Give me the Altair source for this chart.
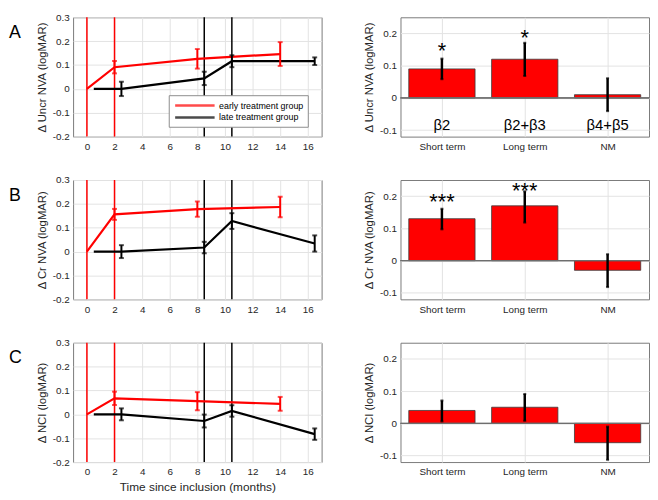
import altair as alt
import pandas as pd

FONT = "Liberation Sans"
GROUPS = ["early treatment group", "late treatment group"]
COLORS = ["#ff0000", "#000000"]

# time axis (months since inclusion)
months_early = [0, 2, 8, 14]
months_late = [0.5, 2.5, 8.5, 10.5, 16.5]
# treatment start lines
vline_month = [0, 2, 8.5, 10.5]
vline_group = [GROUPS[0], GROUPS[0], GROUPS[1], GROUPS[1]]

# Panel A  (Uncr NVA)
uncr_early_mean = [0, 0.091, 0.126, 0.146]
uncr_early_err = [0, 0.026, 0.041, 0.050]
uncr_late_mean = [0, 0, 0.044, 0.116, 0.116]
uncr_late_err = [0, 0.030, 0.028, 0.025, 0.016]
# Panel B  (Cr NVA)
cr_early_mean = [0, 0.156, 0.178, 0.187]
cr_early_err = [0, 0.023, 0.032, 0.043]
cr_late_mean = [0, 0, 0.017, 0.128, 0.034]
cr_late_err = [0, 0.027, 0.024, 0.033, 0.034]
# Panel C  (NCI)
nci_early_mean = [0, 0.067, 0.055, 0.044]
nci_early_err = [0, 0.028, 0.038, 0.029]
nci_late_mean = [0, 0, -0.028, 0.014, -0.083]
nci_late_err = [0, 0.025, 0.027, 0.024, 0.024]

# bar charts
bar_categories = ["Short term", "Long term", "NM"]
uncr_bar = [0.09, 0.12, 0.01]
uncr_bar_lo = [0.058, 0.068, -0.041]
uncr_bar_hi = [0.122, 0.171, 0.061]
uncr_stars = ["*", "*", ""]
uncr_star_y = [0.125, 0.164, 0.0]
uncr_beta = ["β2", "β2+β3", "β4+β5"]

cr_bar = [0.13, 0.17, -0.03]
cr_bar_lo = [0.097, 0.118, -0.082]
cr_bar_hi = [0.161, 0.215, 0.02]
cr_stars = ["***", "***", ""]
cr_star_y = [0.160, 0.194, 0.0]

nci_bar = [0.04, 0.05, -0.06]
nci_bar_lo = [0.006, 0.008, -0.113]
nci_bar_hi = [0.071, 0.091, -0.01]

LEFT_W, LEFT_H = 252, 121
RIGHT_W, RIGHT_H = 252, 121

neg_fmt = "datum.value == 0 ? '0' : (datum.value < 0 ? '-' + format(-datum.value, '.1f') : format(datum.value, '.1f'))"


def axis(**kw):
    base = dict(grid=True, gridColor="#e3e3e3", gridWidth=1, domain=False, ticks=False,
                labelFont=FONT, labelFontSize=10, labelColor="#262626", labelPadding=4,
                titleFont=FONT, titleFontSize=11.5, titleFontWeight="normal", titleColor="#262626",
                labelFlush=False, labelOverlap=False)
    base.update(kw)
    return alt.Axis(**base)


def left_panel(em, ee, lm, le, ytitle, letter, legend, xtitle):
    rows = []
    for m, v, e in zip(months_early, em, ee):
        rows.append(dict(month=m, value=v, lo=v - e, hi=v + e, err=e, group=GROUPS[0]))
    for m, v, e in zip(months_late, lm, le):
        rows.append(dict(month=m, value=v, lo=v - e, hi=v + e, err=e, group=GROUPS[1]))
    df = pd.DataFrame(rows)
    vdf = pd.DataFrame(dict(month=vline_month, group=vline_group))

    xs = alt.Scale(domain=[-1, 17], nice=False, zero=False)
    ys = alt.Scale(domain=[-0.2, 0.3], nice=False, zero=False)
    xax = axis(values=list(range(0, 17, 2)), title=xtitle if xtitle else None,
               titlePadding=5, labelPadding=5, titleFontSize=12)
    yax = axis(values=[-0.2, -0.1, 0, 0.1, 0.2, 0.3], labelExpr=neg_fmt, title=ytitle, titlePadding=5)
    if legend:
        leg = alt.Legend(orient="none", legendX=97, legendY=79, title=None, symbolType="M-4,0H4",
                         symbolSize=100, symbolStrokeWidth=2.5, symbolOffset=16, labelFont=FONT,
                         labelFontSize=9, labelColor="#000000", strokeColor="#8c8c8c",
                         fillColor="white", padding=4, rowPadding=0, labelOffset=18, cornerRadius=0)
    else:
        leg = None
    color = alt.Color("group:N", scale=alt.Scale(domain=GROUPS, range=COLORS), legend=leg)

    X = alt.X("month:Q", scale=xs, axis=xax)
    line = alt.Chart(df).mark_line(strokeWidth=2.2).encode(
        x=X, y=alt.Y("value:Q", scale=ys, axis=yax), color=color, detail="group:N")
    vl = alt.Chart(vdf).mark_rule(strokeWidth=1.5).encode(x=X, color=color)
    eb = alt.Chart(df).transform_filter("datum.err > 0")
    ebar = eb.mark_rule(strokeWidth=2).encode(
        x=X, y=alt.Y("lo:Q", scale=ys, axis=yax), y2="hi:Q", color=color)
    caps = eb.transform_fold(["lo", "hi"], as_=["end", "yv"]).mark_tick(
        orient="horizontal", size=5, thickness=2).encode(
        x=X, y=alt.Y("yv:Q", scale=ys, axis=yax), color=color)
    lab = alt.Chart(pd.DataFrame(dict(letter=[letter]))).mark_text(
        align="left", baseline="middle", fontSize=18, font=FONT, color="#000000").encode(
        x=alt.value(-65), y=alt.value(16), text="letter:N")
    return alt.layer(vl, line, ebar, caps, lab).properties(width=LEFT_W, height=LEFT_H)


def right_panel(vals, lo, hi, ytitle, stars=None, star_y=None, beta=None):
    pos = [1, 2, 3]
    df = pd.DataFrame(dict(cat=bar_categories, pos=pos, value=vals, lo=lo, hi=hi))
    xs = alt.Scale(domain=[0.5, 3.5], nice=False, zero=False)
    ys = alt.Scale(domain=[-0.12, 0.25], nice=False, zero=False)
    xax = axis(values=pos, labelExpr="['', 'Short term', 'Long term', 'NM'][datum.value]",
               title=None, labelPadding=5)
    yax = axis(values=[-0.1, 0, 0.1, 0.2], labelExpr=neg_fmt, title=ytitle, labelPadding=4, titlePadding=5)
    base = alt.Chart(df).transform_calculate(
        x0="datum.pos - 0.4", x1="datum.pos + 0.4", base="0")
    bars = base.mark_bar(color="#ff0000", stroke="#3a3a3a", strokeWidth=0.8).encode(
        x=alt.X("x0:Q", scale=xs, axis=xax), x2="x1:Q",
        y=alt.Y("value:Q", scale=ys, axis=yax), y2="base:Q")
    zero = base.mark_rule(color="#6e6e6e", strokeWidth=1).encode(
        y=alt.Y("base:Q", scale=ys, axis=yax))
    ebar = base.mark_rule(color="#000000", strokeWidth=2.5).encode(
        x=alt.X("pos:Q", scale=xs, axis=xax), y=alt.Y("lo:Q", scale=ys, axis=yax), y2="hi:Q")
    caps = base.transform_fold(["lo", "hi"], as_=["end", "yv"]).mark_tick(
        orient="horizontal", size=3, thickness=2, color="#000000").encode(
        x=alt.X("pos:Q", scale=xs, axis=xax), y=alt.Y("yv:Q", scale=ys, axis=yax))
    layers = [bars, zero, ebar, caps]
    if stars is not None:
        sdf = pd.DataFrame(dict(pos=pos, star=stars, sy=star_y))
        layers.append(alt.Chart(sdf).transform_filter("datum.star != ''").mark_text(
            fontSize=22, font=FONT, baseline="alphabetic", color="#000000").encode(
            x=alt.X("pos:Q", scale=xs, axis=xax), y=alt.Y("sy:Q", scale=ys, axis=yax), text="star:N"))
    if beta is not None:
        bdf = pd.DataFrame(dict(pos=pos, beta=beta, by=[-0.1, -0.1, -0.1]))
        layers.append(alt.Chart(bdf).mark_text(
            fontSize=15, font=FONT, baseline="alphabetic", color="#000000").encode(
            x=alt.X("pos:Q", scale=xs, axis=xax), y=alt.Y("by:Q", scale=ys, axis=yax), text="beta:N"))
    return alt.layer(*layers).properties(width=RIGHT_W, height=RIGHT_H)


SP = 41
rowA = alt.hconcat(
    left_panel(uncr_early_mean, uncr_early_err, uncr_late_mean, uncr_late_err,
               "Δ Uncr NVA (logMAR)", "A", True, None),
    right_panel(uncr_bar, uncr_bar_lo, uncr_bar_hi, "Δ Uncr NVA (logMAR)",
                uncr_stars, uncr_star_y, uncr_beta),
    spacing=SP)
rowB = alt.hconcat(
    left_panel(cr_early_mean, cr_early_err, cr_late_mean, cr_late_err,
               "Δ Cr NVA (logMAR)", "B", False, None),
    right_panel(cr_bar, cr_bar_lo, cr_bar_hi, "Δ Cr NVA (logMAR)", cr_stars, cr_star_y),
    spacing=SP)
rowC = alt.hconcat(
    left_panel(nci_early_mean, nci_early_err, nci_late_mean, nci_late_err,
                "Δ NCI (logMAR)", "C", False, "Time since inclusion (months)"),
    right_panel(nci_bar, nci_bar_lo, nci_bar_hi, "Δ NCI (logMAR)"),
    spacing=SP)

chart = alt.vconcat(rowA, rowB, rowC, spacing=22).resolve_scale(
    color="independent").resolve_legend(color="independent").configure_view(
    stroke="#7a7a7a", strokeWidth=1).properties(
    padding={"left": 0, "top": 0, "right": 0, "bottom": 0}, background="white")

chart.save("out.html", embed_options={"renderer": "svg", "actions": False})
